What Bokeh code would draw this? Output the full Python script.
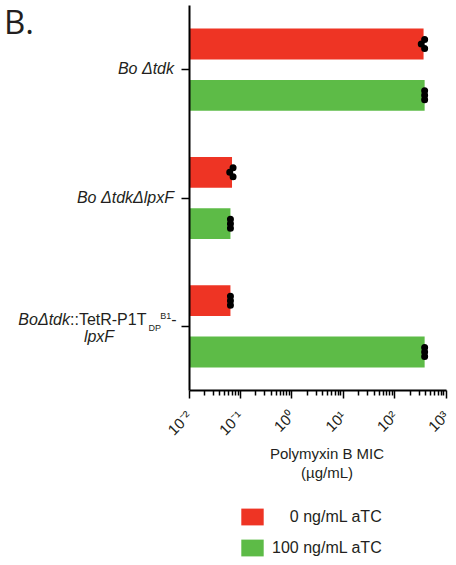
import math
from bokeh.plotting import figure
from bokeh.models import (Range1d, ColumnDataSource, Label, Legend, LegendItem,
                          FixedTicker, CustomJSTickFormatter)
from bokeh.transform import dodge
from bokeh.embed import file_html
from bokeh.resources import INLINE

# ---------------- data ----------------
strains = ["Bo Δtdk", "Bo ΔtdkΔlpxF", "BoΔtdk::TetR-P1T DP B1-lpxF"]
conditions = ["0 ng/mL aTC", "100 ng/mL aTC"]
mic_0 = [366, 0.0687, 0.064]      # bar values, 0 ng/mL aTC
mic_100 = [384, 0.064, 384]       # bar values, 100 ng/mL aTC
reps_0 = [[384, 330, 384], [0.072, 0.062, 0.072], [0.064, 0.064, 0.064]]
reps_100 = [[384, 384, 384], [0.064, 0.064, 0.064], [384, 384, 384]]
x_ticks = [0.01, 0.1, 1, 10, 100, 1000]
x_title = "Polymyxin B MIC\n(µg/mL)"
panel_label = "B."

RED = "#EE3424"
GREEN = "#5DBB47"
TXT = "#231F20"
FONT = "Liberation Sans"

# ---------------- layout (pixels) ----------------
W, H = 456, 565
AX_LEFT, DEC = 188.5, 51.4          # x pixel of 10^-2, pixels per decade
AX_TOP, AX_BOTTOM = 5, 390          # pixel extent of the category axis
n = len(strains)
unit = (AX_BOTTOM - AX_TOP) / n     # pixels per strain group

x_start = 10 ** (math.log10(x_ticks[0]) - AX_LEFT / DEC)
x_end = 10 ** (math.log10(x_ticks[0]) + (W - AX_LEFT) / DEC)
y_top = -AX_TOP / unit
y_bottom = n + (H - AX_BOTTOM) / unit

gy = [i + 0.5 for i in range(n)]    # group centres, top to bottom

p = figure(width=W, height=H, x_axis_type="log", x_range=Range1d(x_start, x_end),
           y_range=Range1d(y_bottom, y_top),
           output_backend="svg", toolbar_location=None,
           min_border=0, min_border_left=0, min_border_right=0,
           min_border_top=0, min_border_bottom=0)
p.xgrid.visible = False
p.ygrid.visible = False
p.outline_line_color = None
p.background_fill_color = "white"
p.border_fill_color = "white"

src = ColumnDataSource(dict(strain=strains, gy=gy, mic_0=mic_0, mic_100=mic_100))
r0 = p.hbar(y=dodge("gy", -0.2), left=x_ticks[0], right="mic_0", height=0.24,
            source=src, fill_color=RED, line_color=None)
r1 = p.hbar(y=dodge("gy", 0.2), left=x_ticks[0], right="mic_100", height=0.24,
            source=src, fill_color=GREEN, line_color=None)

jit = [-0.035, 0.0, 0.035]
for base, reps in ((-0.2, reps_0), (0.2, reps_100)):
    for k in range(3):
        s = ColumnDataSource(dict(gy=gy, v=[r[k] for r in reps]))
        p.scatter(x="v", y=dodge("gy", base + jit[k]), source=s,
                  size=7, marker="circle", fill_color="black", line_color=None)

# x axis
xa = p.xaxis[0]
xa.fixed_location = n
xa.bounds = (x_ticks[0], x_ticks[-1])
xa.ticker = FixedTicker(ticks=x_ticks,
                        minor_ticks=[m * 10 ** e for e in range(-2, 3) for m in range(2, 10)])
xa.formatter = CustomJSTickFormatter(code="""
const sup = {"-": "\u207b", "0": "\u2070", "1": "\u00b9", "2": "\u00b2", "3": "\u00b3"};
const e = Math.round(Math.log10(tick));
return "10" + String(e).split("").map(c => sup[c]).join("");
""")
xa.major_label_orientation = math.pi / 4
xa.major_label_text_font = FONT
xa.major_label_text_font_size = "15px"
xa.major_label_text_color = TXT
xa.major_label_standoff = 15
xa.major_tick_out = 8
xa.major_tick_in = 0
xa.minor_tick_out = 5
xa.minor_tick_in = 0
xa.axis_line_width = 2
xa.axis_line_color = "black"
xa.major_tick_line_width = 1.5
xa.minor_tick_line_width = 1.5
xa.major_tick_line_color = "black"
xa.minor_tick_line_color = "black"

# y axis
ya = p.yaxis[0]
ya.fixed_location = x_ticks[0]
ya.bounds = (0, n)
ya.ticker = FixedTicker(ticks=gy, minor_ticks=[])
ya.major_tick_out = 8
ya.major_tick_in = 0
ya.minor_tick_line_color = None
ya.axis_line_width = 2
ya.axis_line_color = "black"
ya.major_tick_line_width = 1.5
ya.major_tick_line_color = "black"
ya.major_label_text_color = None


def lab(text, y, dx, dy, size="16px", style="normal", align="right", baseline="middle",
        font=FONT, line_height=1.2):
    p.add_layout(Label(x=x_ticks[0], y=y, x_offset=dx, y_offset=dy, text=text,
                       text_font=font, text_font_size=size, text_font_style=style,
                       text_align=align, text_baseline=baseline, text_color=TXT,
                       text_line_height=line_height))


# strain labels
lab("Bo Δtdk", gy[0], -15, 1, style="italic")
lab("Bo ΔtdkΔlpxF", gy[1], -15, 1, style="italic")
S = -119
lab("BoΔtdk", gy[2], S, 7.3, style="italic", align="right")
lab("::TetR-P1T", gy[2], S, 7.3, align="left")
lab("DP", gy[2], -40.5, -1.2, size="9px", align="left")
lab("B1", gy[2], -28.7, 10.3, size="9px", align="left")
lab("-", gy[2], -17.7, 7.3, align="left")
lab("lpxF", gy[2], -90, -10.2, style="italic", align="center")

# panel label
lab(panel_label, gy[0], -185, 48, size="33px", align="left", font="Open Sans")

# x title
lab(x_title, n, 138, -54, size="15px", align="center", baseline="top", line_height=1.15)

legend = Legend(items=[LegendItem(label="\u2007\u2007" + conditions[0], renderers=[r0]),
                       LegendItem(label=conditions[1], renderers=[r1])],
                location=(238, 7), orientation="vertical", glyph_width=28, glyph_height=21,
                label_height=21, label_standoff=6, spacing=10, padding=0, margin=0,
                border_line_color=None, background_fill_alpha=0,
                label_text_font=FONT, label_text_font_size="16px", label_text_color=TXT)
p.add_layout(legend)

open("out.html", "w").write(file_html(p, INLINE))
